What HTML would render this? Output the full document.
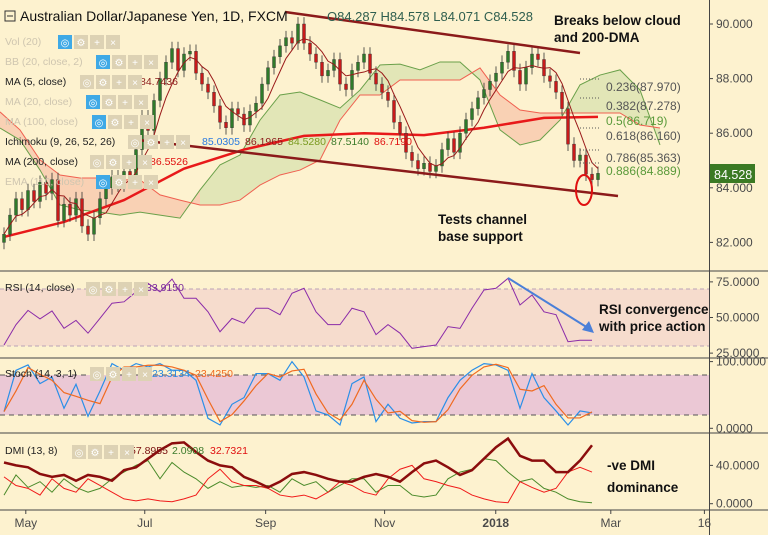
<!DOCTYPE html>
<html><head><meta charset="utf-8"><style>
html,body{margin:0;padding:0;background:#fdf2cf;}
svg{display:block;font-family:"Liberation Sans",sans-serif;}
.ax{font-size:12px;fill:#4a4a4a;}
.lbl{font-size:10.5px;fill:#222;}
.fade{font-size:10.5px;fill:#cfc6b0;}
.ann{font-size:13.5px;font-weight:bold;fill:#111;}
</style></head><body>
<svg id="chart" width="768" height="535" viewBox="0 0 768 535" xmlns="http://www.w3.org/2000/svg">
<rect x="0" y="0" width="768" height="535" fill="#fdf2cf"/>
<g id="cloud"></g>
<g id="main"></g>
<g id="rsiG">
<rect x="0" y="289" width="709" height="57" fill="#f6dccd"/>
<line x1="0" y1="289" x2="709" y2="289" stroke="#b9a3b7" stroke-dasharray="4,3"/>
<line x1="0" y1="346" x2="709" y2="346" stroke="#b9a3b7" stroke-dasharray="4,3"/>
</g>
<g id="stochG">
<rect x="0" y="375" width="709" height="40" fill="#ebc8d5"/>
<line x1="0" y1="375" x2="709" y2="375" stroke="#555" stroke-dasharray="5,4"/>
<line x1="0" y1="415" x2="709" y2="415" stroke="#555" stroke-dasharray="5,4"/>
</g>
<g id="dmiG"></g>
<line x1="0" y1="271" x2="768" y2="271" stroke="#444"/>
<line x1="0" y1="358" x2="768" y2="358" stroke="#444"/>
<line x1="0" y1="433" x2="768" y2="433" stroke="#444"/>
<line x1="0" y1="510" x2="768" y2="510" stroke="#444"/>
<line x1="709.5" y1="0" x2="709.5" y2="535" stroke="#444"/>
<g id="axes"></g>
<line x1="285" y1="12" x2="580" y2="53" stroke="#8b1a1a" stroke-width="2.5"/>
<line x1="138" y1="140" x2="618" y2="196" stroke="#8b1a1a" stroke-width="2.5"/>
<ellipse cx="584" cy="190" rx="8" ry="15" fill="none" stroke="#e01010" stroke-width="2"/>
<g font-size="12">
<line x1="580" y1="79" x2="600" y2="79" stroke="#555" stroke-dasharray="1,2"/>
<line x1="580" y1="98" x2="600" y2="98" stroke="#555" stroke-dasharray="1,2"/>
<line x1="580" y1="128" x2="600" y2="128" stroke="#555" stroke-dasharray="1,2"/>
<line x1="580" y1="150" x2="600" y2="150" stroke="#555" stroke-dasharray="1,2"/>
<line x1="580" y1="163" x2="600" y2="163" stroke="#555" stroke-dasharray="1,2"/>
<text x="606" y="91" fill="#555">0.236(87.970)</text>
<text x="606" y="110" fill="#555">0.382(87.278)</text>
<text x="606" y="125" fill="#5a9a3a">0.5(86.719)</text>
<text x="606" y="140" fill="#555">0.618(86.160)</text>
<text x="606" y="162" fill="#555">0.786(85.363)</text>
<text x="606" y="175" fill="#5a9a3a">0.886(84.889)</text>
</g>
<line x1="508" y1="278" x2="588" y2="328" stroke="#4a7fd8" stroke-width="2"/>
<polygon points="594,333 582,330 589,321" fill="#4a7fd8"/>
<text class="ann" x="554" y="25">Breaks below cloud</text>
<text class="ann" x="554" y="42">and 200-DMA</text>
<text class="ann" x="438" y="224">Tests channel</text>
<text class="ann" x="438" y="241">base support</text>
<text class="ann" x="599" y="314">RSI convergence</text>
<text class="ann" x="599" y="331">with price action</text>
<text class="ann" x="607" y="470">-ve DMI</text>
<text class="ann" x="607" y="492">dominance</text>
<rect x="5" y="11" width="10" height="10" fill="none" stroke="#333"/>
<line x1="7" y1="16" x2="13" y2="16" stroke="#333"/>
<text x="20" y="21" font-size="14" fill="#111">Australian Dollar/Japanese Yen, 1D, FXCM</text>
<text x="327" y="21" font-size="13" fill="#2f5f4f">O84.287  H84.578  L84.071  C84.528</text>
<text class="fade" x="5" y="45">Vol (20)</text>
<text class="fade" x="5" y="65">BB (20, close, 2)</text>
<text class="lbl" x="5" y="85">MA (5, close)</text>
<text x="140" y="85" font-size="10.5" fill="#8b1a1a">84.7436</text>
<text class="fade" x="5" y="105">MA (20, close)</text>
<text class="fade" x="5" y="125">MA (100, close)</text>
<text class="lbl" x="5" y="145">Ichimoku (9, 26, 52, 26)</text>
<text x="202" y="145" font-size="10.5" fill="#2a7ae0">85.0305</text>
<text x="245" y="145" font-size="10.5" fill="#8b1a1a">86.1965</text>
<text x="288" y="145" font-size="10.5" fill="#7a9a20">84.5280</text>
<text x="331" y="145" font-size="10.5" fill="#3a7a2a">87.5140</text>
<text x="374" y="145" font-size="10.5" fill="#e01010">86.7190</text>
<text class="lbl" x="5" y="165">MA (200, close)</text>
<text x="150" y="165" font-size="10.5" fill="#e01010">86.5526</text>
<text class="fade" x="5" y="185">EMA (110, close)</text>
<text class="lbl" x="5" y="291">RSI (14, close)</text>
<text x="146" y="291" font-size="10.5" fill="#7a2a9a">33.9150</text>
<text class="lbl" x="5" y="377">Stoch (14, 3, 1)</text>
<text x="152" y="377" font-size="10.5" fill="#2a8ae0">23.3134</text>
<text x="195" y="377" font-size="10.5" fill="#f06a20">23.4250</text>
<text class="lbl" x="5" y="454">DMI (13, 8)</text>
<text x="130" y="454" font-size="10.5" fill="#7a1010">57.8955</text>
<text x="172" y="454" font-size="10.5" fill="#3a7a2a">2.0908</text>
<text x="210" y="454" font-size="10.5" fill="#e01010">32.7321</text>
<g id="icons"></g>
<rect x="710" y="164" width="45" height="19" fill="#3b7a24"/>
<text x="714" y="179" font-size="12.5" fill="#fff">84.528</text>
</svg>
<script>
const NS="http://www.w3.org/2000/svg";
const closes=[82.3,83.0,83.6,83.2,83.9,83.5,84.2,83.8,84.3,82.8,83.4,83.0,83.6,82.6,82.3,82.9,83.6,84.0,84.4,84.1,84.6,84.3,85.4,86.6,86.1,87.2,88.0,88.6,89.1,88.3,88.9,89.0,88.2,87.8,87.5,87.0,86.4,86.2,86.9,86.7,86.3,86.8,87.1,87.8,88.4,88.8,89.2,89.5,89.3,90.0,89.3,88.9,88.6,88.1,88.3,88.7,87.8,87.6,88.3,88.6,88.9,88.2,87.8,87.5,87.2,86.4,86.0,85.3,85.0,84.7,84.9,84.6,84.8,85.4,85.8,85.3,86.0,86.5,86.9,87.3,87.6,87.9,88.2,88.6,89.0,88.3,87.8,88.4,88.9,88.7,88.1,87.9,87.5,86.9,85.6,85.0,85.2,84.5,84.3,84.53];
const ma200=[82.2,82.75,83.55,84.7,85.4,85.9,86.0,85.93,86.2,86.56,86.6];
const spanA=[86.19,85.75,84.65,83.37,83.19,83.11,83.0,83.11,83.0,82.89,83.92,84.84,85.2,86.48,87.4,87.51,87.22,86.92,87.58,88.5,88.53,88.32,88.61,88.61,87.95,86.12,85.57,85.75,86.48,87.77,88.13,88.32,87.58,85.57];
const spanB=[86.78,86.12,85.02,84.47,84.36,84.36,84.29,84.29,83.74,83.55,83.37,83.37,83.55,84.1,84.47,84.65,85.02,86.48,87.4,87.4,87.95,87.95,87.95,87.95,88.39,87.4,86.85,86.74,86.74,86.74,86.74,86.74,86.3,86.19];
const rsi=[30.7,45,55,49,54.6,42.4,48,39,49.4,60,61,68,74,68,77,63.5,63.5,54,40,49.4,46,56.5,56.5,52,67,70.5,54,45,45,56.5,54,38,45,39,28.4,29.6,30.7,43.6,42.4,56.5,69.3,70.5,77.5,58.8,65.8,54,52,33,34,34];
const stochK=[25,87,95,67,77,30,66,18,56,97,87,97,92,97,87,87,72,15,5,36,46,82,82,72,100,77,26,20,5,67,77,10,36,15,8,10,10,46,72,87,97,95,87,30,82,46,26,5,26,23];
const adx=[43,40,38,31,28,30,24,30,28,24,35,38,47,56,63,64,54,45,40,38,28,23,17,23,31,33,30,26,23,23,28,31,28,23,33,42,45,38,30,35,47,59,68,50,45,45,33,33,45,61];
const plusDI=[9,30,17,23,12,26,17,12,16,26,33,40,45,26,43,33,26,16,23,17,19,17,19,12,26,19,23,12,19,26,26,12,19,19,9,7,9,26,33,36,47,45,33,23,26,16,12,5,2,1];
const minusDI=[28,19,16,9,26,16,12,26,19,12,5,3,5,3,2,5,9,26,36,23,19,19,16,9,7,9,5,12,23,19,12,9,26,36,40,26,23,19,16,9,5,2,1,23,17,12,16,33,38,33];
const priceTicks=[90,88,86,84,82];
const rsiTicks=[75,50,25];
const stochTicks=[100,0];
const dmiTicks=[40,0];
const monthLabels=["May","Jul","Sep","Nov","2018","Mar","16"];
const monthDays=[4,65,127,188,245,304,352];
const xC=i=>4+6*i;
const yP=p=>24+(90-p)*27.3;
const xCloud=k=>20*k;
const yR=v=>289+(70-v)*1.425;
const yS=v=>428.3-v*0.667;
const yD=v=>503.7-v*0.958;
const xDay=d=>18+d*1.95;
function el(t,a,parent){const e=document.createElementNS(NS,t);for(const k in a)e.setAttribute(k,a[k]);parent.appendChild(e);return e;}
const main=document.getElementById('main'),cloud=document.getElementById('cloud');
for(let k=0;k<spanA.length-1;k++){
  const pts=[[xCloud(k),yP(spanA[k])],[xCloud(k+1),yP(spanA[k+1])],[xCloud(k+1),yP(spanB[k+1])],[xCloud(k),yP(spanB[k])]];
  const up=(spanA[k]+spanA[k+1])>(spanB[k]+spanB[k+1]);
  const p=el('polygon',{points:pts.map(q=>q.join(',')).join(' '),fill:up?'#dfe4b4':'#f8cdb0',opacity:'0.9'},cloud);
  
  
}
const la=el('polyline',{points:spanA.map((v,k)=>xCloud(k)+','+yP(v)).join(' '),fill:'none',stroke:'#6aa04a','stroke-width':1},cloud);


const lb=el('polyline',{points:spanB.map((v,k)=>xCloud(k)+','+yP(v)).join(' '),fill:'none',stroke:'#f06050','stroke-width':1},cloud);


const m2=el('polyline',{points:ma200.map((v,k)=>xC(Math.min(k*10,closes.length-1))+','+yP(v)).join(' '),fill:'none',stroke:'#e8191a','stroke-width':2.5},main);


for(let i=0;i<closes.length;i++){
  const o=i?closes[i-1]:closes[0]-0.3, c=closes[i];
  const hi=Math.max(o,c)+0.25, lo=Math.min(o,c)-0.25;
  const g=el('g',{},main);
  
  
  el('line',{x1:xC(i),x2:xC(i),y1:yP(hi),y2:yP(lo),stroke:'#333','stroke-width':0.8},g);
  const top=yP(Math.max(o,c)),h=Math.max(1.5,Math.abs(yP(o)-yP(c)));
  el('rect',{x:xC(i)-1.5,y:top,width:3,height:h,fill:c>=o?'#2f7a2a':'#c81a1a',stroke:'#333','stroke-width':0.4},g);
}
const ma5=closes.map((v,i)=>{const s=closes.slice(Math.max(0,i-4),i+1);return s.reduce((a,b)=>a+b,0)/s.length;});
const m5=el('polyline',{points:ma5.map((v,i)=>xC(i)+','+yP(v)).join(' '),fill:'none',stroke:'#9a1a1a','stroke-width':1},main);


const rg=document.getElementById('rsiG');
const rl=el('polyline',{points:rsi.map((v,k)=>xC(2*k)+','+yR(v)).join(' '),fill:'none',stroke:'#8a2aa8','stroke-width':1},rg);


const sg=document.getElementById('stochG');
const stochD=stochK.map((v,i)=>{const s=stochK.slice(Math.max(0,i-1),i+1);return s.reduce((a,b)=>a+b,0)/s.length;});
const sk=el('polyline',{points:stochK.map((v,k)=>xC(2*k)+','+yS(v)).join(' '),fill:'none',stroke:'#2a8fe8','stroke-width':1.2},sg);


const sd=el('polyline',{points:stochD.map((v,k)=>xC(2*k)+','+yS(v)).join(' '),fill:'none',stroke:'#f06a20','stroke-width':1.2},sg);


const dg=document.getElementById('dmiG');
const dp=el('polyline',{points:plusDI.map((v,k)=>xC(2*k)+','+yD(v)).join(' '),fill:'none',stroke:'#4a8a2a','stroke-width':1},dg);


const dm=el('polyline',{points:minusDI.map((v,k)=>xC(2*k)+','+yD(v)).join(' '),fill:'none',stroke:'#f01a1a','stroke-width':1},dg);


const da=el('polyline',{points:adx.map((v,k)=>xC(2*k)+','+yD(v)).join(' '),fill:'none',stroke:'#8b0d0d','stroke-width':2.5},dg);


const ax=document.getElementById('axes');
function tick(x,y,txt,name){const t=el('text',{x:x,y:y,class:'ax'},ax);t.textContent=txt;
  
  
  el('line',{x1:709,x2:713,y1:y-4,y2:y-4,stroke:'#444'},ax);}
priceTicks.forEach(v=>tick(716,yP(v)+4,v.toFixed(3),'price-tick'));
rsiTicks.forEach(v=>tick(716,yR(v)+4,v.toFixed(4),'rsi-tick'));
stochTicks.forEach(v=>tick(716,yS(v)+4,v.toFixed(4),'stoch-tick'));
dmiTicks.forEach(v=>tick(716,yD(v)+4,v.toFixed(4),'dmi-tick'));
monthLabels.forEach((m,i)=>{const x=xDay(monthDays[i]);
  const t=el('text',{x:x,y:527,class:'ax','text-anchor':'middle'},ax);t.textContent=m;
  if(m==='2018')t.setAttribute('font-weight','bold');
  
  
  el('line',{x1:x,x2:x,y1:510,y2:514,stroke:'#444'},ax);});
const icons=document.getElementById('icons');
const rows=[[58,35,true],[96,55,true],[80,75,false],[86,95,true],[92,115,true],[128,135,false],[90,155,false],[96,175,true],[86,282,false],[90,367,false],[72,445,false]];
rows.forEach(r=>{for(let j=0;j<4;j++){
  const b=el('rect',{x:r[0]+j*16,y:r[1],width:14,height:14,fill:(j===0&&r[2])?'#3fa9e6':'#ddd2b4'},icons);
  
  
  const t=el('text',{x:r[0]+j*16+7,y:r[1]+11,'font-size':10,fill:'#fff','text-anchor':'middle'},icons);
  t.textContent=['◎','⚙','+','×'][j];}});
</script>
</body></html>
